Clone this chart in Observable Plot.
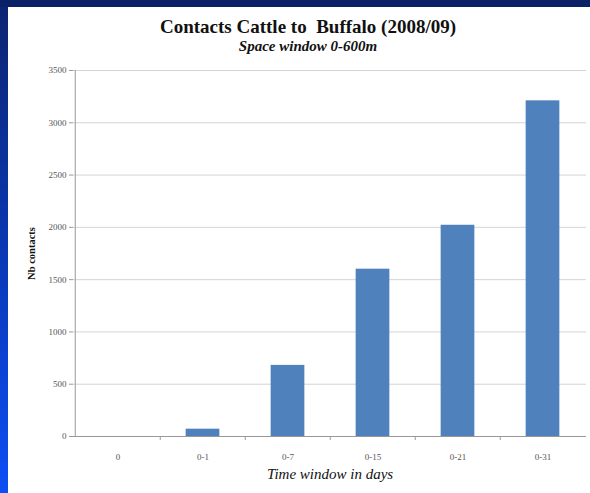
<!DOCTYPE html>
<html>
<head>
<meta charset="utf-8">
<script src="https://cdn.jsdelivr.net/npm/d3@7"></script>
<script src="https://cdn.jsdelivr.net/npm/@observablehq/plot@0.6"></script>
<style>
  html, body { margin: 0; padding: 0; }
  body {
    width: 590px; height: 493px; overflow: hidden; position: relative;
    background: linear-gradient(to bottom, #0b2470 0%, #0a3cc0 60%, #0d4ef5 100%);
  }
  #top { position: absolute; left: 0; top: 0; width: 590px; height: 7px; background: #0b2167; }
  #panel { position: absolute; left: 8px; top: 7px; width: 582px; height: 486px; background: #fff; }
  #title {
    position: absolute; left: 0; top: 9px; width: 600px; text-align: center;
    font: bold 19px "Liberation Serif", "DejaVu Serif", serif; color: #111;
  }
  #subtitle {
    position: absolute; left: 0; top: 31px; width: 600px; text-align: center;
    font: italic bold 15px "Liberation Serif", "DejaVu Serif", serif; color: #111;
  }
  #chart { position: absolute; left: 0; top: 49px; }
</style>
</head>
<body>
<div id="top"></div>
<div id="panel">
  <div id="title">Contacts Cattle to&nbsp; Buffalo (2008/09)</div>
  <div id="subtitle">Space window 0-600m</div>
  <div id="chart"></div>
</div>
<script>
// Number of cattle–buffalo contacts by cumulative time window
const windows = ["0", "0-1", "0-7", "0-15", "0-21", "0-31"];
const contacts = [0, 70, 680, 1600, 2020, 3210];
const yTicks = [0, 500, 1000, 1500, 2000, 2500, 3000, 3500];

const data = windows.map((w, i) => ({window: w, count: contacts[i]}));

const width = 582, height = 437;
const marginLeft = 65, marginRight = 4, marginTop = 14, marginBottom = 57;
const step = (width - marginLeft - marginRight) / windows.length;
const serif = "'Liberation Serif', 'DejaVu Serif', serif";

const chart = Plot.plot({
  width, height, marginLeft, marginRight, marginTop, marginBottom,
  style: {fontFamily: serif, fontSize: "9px", color: "#555", background: "transparent"},
  x: {type: "band", domain: windows, padding: 0, label: null},
  y: {type: "linear", domain: [0, 3500], label: null},
  marks: [
    Plot.gridY(yTicks, {stroke: "#d4d4d4", strokeOpacity: 1}),
    Plot.barY(data, {x: "window", y: "count", fill: "#4f81bd",
      insetLeft: step * 0.3, insetRight: step * 0.3}),
    // left axis line at the start of the first category
    Plot.ruleX([windows[0]], {x: d => d, dx: -step / 2, y1: 0, y2: 3500, stroke: "#999"}),
    Plot.ruleY([0], {stroke: "#999"}),
    // small tick marks between categories, hanging below the baseline
    Plot.axisX(windows.slice(1), {dx: -step / 2, tickSize: 4, text: null, label: null, stroke: "#999"}),
    Plot.axisY(yTicks, {tickSize: 4, tickPadding: 3, stroke: "#999", fill: "#555", fontSize: 9,
      tickFormat: d => String(d),
      label: "Nb contacts", labelAnchor: "center", labelArrow: "none", labelOffset: 46}),
    Plot.axisX({tickSize: 0, tickPadding: 17, fill: "#555", fontSize: 9,
      label: "Time window in days", labelAnchor: "center", labelArrow: "none", labelOffset: 42})
  ]
});

// Style the axis titles like the chart's headings
chart.querySelectorAll("[aria-label='y-axis label']").forEach(t => {
  t.setAttribute("font-weight", "bold");
  t.setAttribute("fill", "#111");
  t.setAttribute("font-size", "10.5");
});
chart.querySelectorAll("[aria-label='x-axis label']").forEach(t => {
  t.setAttribute("font-style", "italic");
  t.setAttribute("fill", "#111");
  t.setAttribute("font-size", "15");
});

document.getElementById("chart").appendChild(chart);
</script>
</body>
</html>
